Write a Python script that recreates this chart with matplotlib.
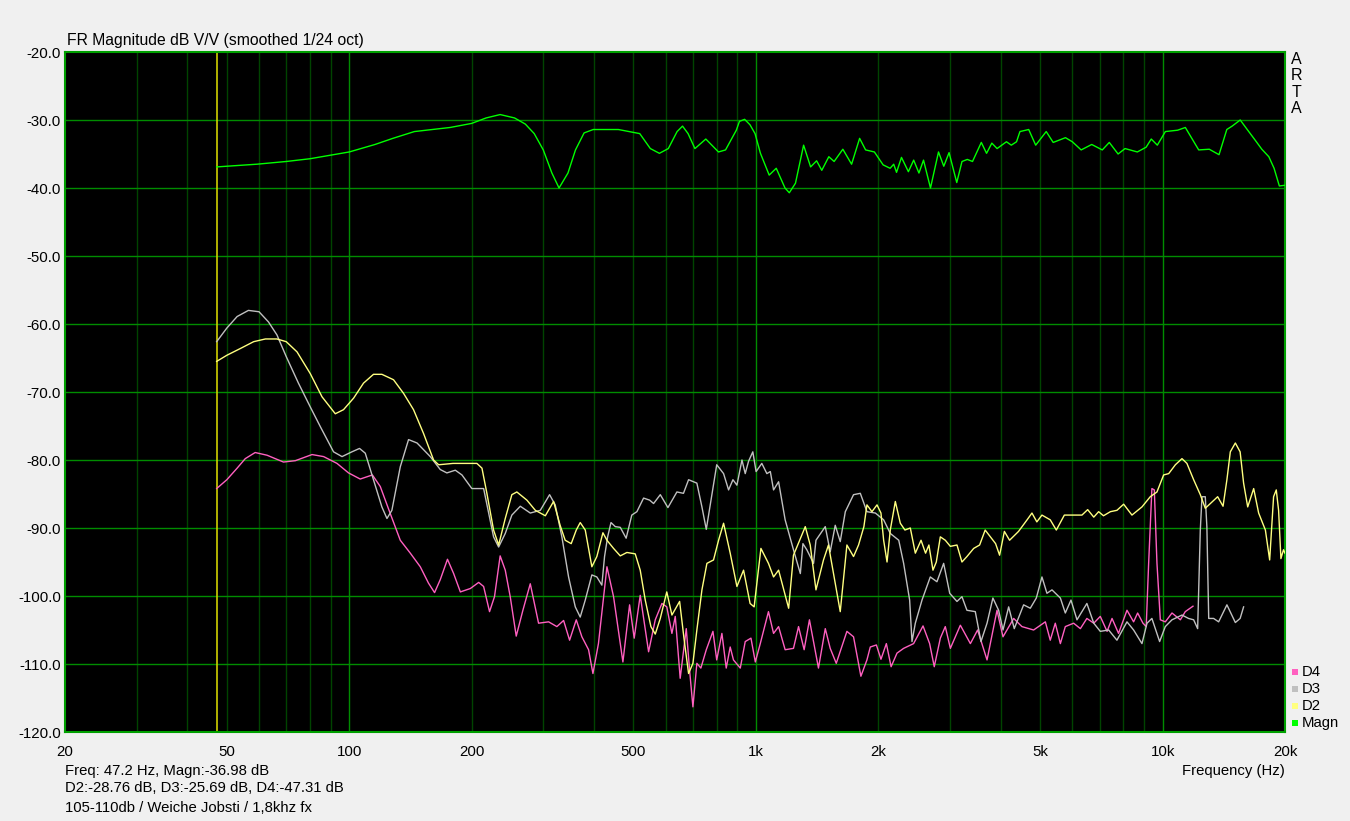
import matplotlib
matplotlib.use("Agg")
import matplotlib.pyplot as plt
from matplotlib.patches import Rectangle

plt.rcParams['font.family'] = ['Liberation Sans', 'DejaVu Sans']

# ---- data ----
magn_f = [47.2, 59.3, 70, 80, 100, 115.7, 128, 144.6, 177, 200, 217, 235, 255, 271, 285,
          300, 315, 328, 345, 360, 378, 398, 459, 518, 550, 579, 609, 640, 660, 681, 708,
          753, 809, 842, 895, 911, 938, 967, 995, 1026, 1078, 1122, 1179, 1208, 1251, 1310,
          1363, 1410, 1452, 1511, 1557, 1636, 1719, 1799, 1861, 1956, 2055, 2138, 2182, 2217,
          2280, 2371, 2443, 2517, 2583, 2687, 2812, 2897, 2985, 3118, 3212, 3310, 3409, 3583,
          3691, 3803, 3918, 4131, 4246, 4374, 4459, 4686, 4875, 5174, 5383, 5770, 5999, 6306,
          6695, 7108, 7395, 7773, 8086, 8668, 9110, 9379, 9706, 10160, 10890, 11375, 12270,
          13025, 13765, 14385, 14825, 15520, 16195, 16860, 17540, 18250, 18800, 19370, 20000]
magn_db = [-36.9, -36.5, -36.1, -35.7, -34.7, -33.6, -32.7, -31.7, -31.1, -30.5, -29.7, -29.2,
           -29.7, -30.6, -32.0, -34.4, -37.8, -40.0, -37.8, -34.4, -31.9, -31.4, -31.4, -32.0,
           -34.2, -34.9, -34.2, -31.7, -30.9, -32.0, -34.2, -32.8, -34.7, -34.4, -31.5, -30.2,
           -29.9, -30.7, -32.0, -34.9, -38.1, -37.1, -40.0, -40.7, -39.3, -33.7, -36.9, -36.0,
           -37.4, -35.4, -36.1, -34.3, -36.5, -32.7, -34.4, -34.7, -36.6, -37.1, -36.5, -37.7,
           -35.5, -37.6, -35.9, -37.8, -35.9, -40.0, -34.7, -36.8, -34.8, -39.2, -36.1, -35.8,
           -36.1, -33.3, -34.9, -33.4, -34.2, -33.2, -33.7, -33.2, -31.7, -31.4, -33.7, -31.7,
           -33.3, -32.6, -33.2, -34.4, -33.6, -34.4, -33.3, -35.0, -34.2, -34.7, -34.0, -32.8,
           -33.7, -31.7, -31.5, -31.1, -34.4, -34.3, -35.1, -31.4, -30.9, -30.0, -31.5, -32.9,
           -34.3, -35.4, -37.1, -39.7, -39.6]

d2_f = [47.2, 50, 54, 58.2, 62.2, 66.4, 70, 74.4, 80.2, 85.7, 92.4, 96.8, 102.5, 108.4, 114.7,
        120.3, 128.5, 136, 143.9, 152.3, 161.2, 165.9, 180, 206, 212, 218, 226.4, 233, 241.9,
        251.1, 258.3, 273.4, 286.8, 303.5, 318, 330, 339.6, 351.4, 361.6, 369.8, 380.5, 395,
        406.3, 420.5, 430.2, 446.6, 463.9, 481.6, 504.9, 519.4, 534.4, 551.8, 565.6, 581.9,
        603.7, 621.5, 649.2, 666.3, 683, 700, 715.8, 736.6, 757.7, 786.6, 809.4, 832.7, 864.5,
        898, 932.4, 967.6, 990, 1028.7, 1073.6, 1105, 1137, 1203.6, 1237, 1322.5, 1360, 1405,
        1466, 1508, 1612, 1674, 1738, 1788, 1843, 1875, 1929, 1985, 2030, 2061, 2101, 2140,
        2202, 2265, 2325, 2397, 2466, 2547, 2613, 2663, 2725, 2777, 2841, 2922, 3007, 3122,
        3211, 3303, 3432, 3549, 3662, 3771, 3885, 3974, 4083, 4205, 4424, 4643, 4773, 4907,
        5051, 5294, 5479, 5734, 6043, 6335, 6543, 6773, 6962, 7157, 7441, 7723, 8022, 8408,
        8898, 9326, 9687, 10059, 10353, 10751, 11161, 11478, 11923, 12381, 12735, 13104,
        13659, 14082, 14394, 14674, 15098, 15513, 15821, 16193, 16750, 17228, 17898, 18337,
        18748, 19035, 19288, 19543, 19830, 20000]
d2_db = [-65.5, -64.6, -63.6, -62.6, -62.2, -62.2, -62.6, -64.1, -67.3, -70.7, -73.2, -72.6,
         -70.9, -68.7, -67.4, -67.4, -68.2, -70.2, -72.6, -76.1, -80.0, -80.7, -80.5, -80.5,
         -81.2, -84.9, -90.3, -92.5, -88.6, -85.1, -84.7, -85.9, -87.4, -88.2, -86.1, -89.6,
         -91.8, -92.3, -90.3, -89.2, -90.3, -95.7, -94.2, -90.7, -91.8, -93.0, -94.1, -93.6,
         -93.8, -96.2, -100.6, -104.5, -105.6, -103.3, -99.4, -102.8, -100.8, -106.5, -111.4,
         -109.9, -105.0, -99.1, -95.2, -94.7, -91.8, -89.3, -93.7, -98.6, -96.2, -101.1,
         -101.6, -93.0, -95.2, -97.2, -96.2, -101.8, -94.0, -89.8, -92.5, -99.1, -94.7, -92.5,
         -102.3, -92.5, -94.2, -92.5, -89.8, -86.6, -87.6, -86.6, -87.8, -91.8, -95.0, -90.3,
         -86.1, -89.3, -90.3, -90.0, -93.7, -91.8, -93.7, -92.5, -96.2, -95.0, -91.3, -91.8,
         -92.7, -92.5, -95.0, -94.2, -93.0, -92.5, -90.3, -91.3, -92.3, -94.0, -90.5, -91.8,
         -90.5, -88.8, -87.8, -89.1, -88.1, -88.8, -90.3, -88.1, -88.1, -88.1, -87.3, -88.4,
         -87.6, -88.2, -87.6, -87.4, -86.5, -88.1, -86.9, -85.4, -84.7, -82.2, -82.0, -80.7,
         -79.8, -80.5, -82.9, -85.1, -87.1, -86.4, -85.4, -86.8, -82.9, -78.8, -77.5, -78.8,
         -83.4, -86.9, -84.2, -87.8, -90.3, -94.7, -85.4, -84.4, -87.4, -94.5, -93.2, -93.7]

d3_f = [47.2, 50, 53, 56.5, 60, 63.3, 66.4, 70, 75, 80.2, 84.9, 91.5, 96, 101.5, 106, 109.5,
        114.7, 120.3, 123.8, 127.3, 133.5, 139.9, 146.8, 158.2, 167.4, 173.8, 182.3, 189.3,
        200.2, 214, 220.2, 226.4, 233, 241.9, 251.1, 263.4, 278.7, 295, 310.9, 321, 333.3,
        346.2, 359.6, 369.8, 380.5, 395, 406.3, 418, 424.4, 431.9, 440.2, 451, 463.9, 479.6,
        495.2, 509.7, 529.4, 547.7, 560.2, 581.9, 607.6, 639.3, 663.5, 683, 715.8, 736.6, 755,
        775.3, 801, 832.7, 856.6, 878, 898, 924, 941.3, 959, 982.6, 1001, 1034, 1064, 1085,
        1105, 1137, 1180, 1237, 1286, 1305, 1334, 1386, 1405, 1481, 1523, 1567, 1612, 1659,
        1738, 1806, 1875, 1967, 2061, 2140, 2245, 2308, 2388, 2420, 2466, 2561, 2684, 2787,
        2895, 2996, 3122, 3211, 3303, 3463, 3576, 3701, 3826, 3952, 4051, 4183, 4318, 4553,
        4728, 4892, 5051, 5196, 5346, 5606, 5765, 5953, 6159, 6514, 6773, 7027, 7369, 7723,
        8174, 8487, 8898, 9156, 9413, 9834, 10155, 10547, 11161, 11582, 11923, 12196, 12381,
        12500, 12735, 12850, 12985, 13350, 13735, 14394, 15098, 15513, 15821]
d3_db = [-62.6, -60.6, -58.9, -58.0, -58.2, -59.7, -61.6, -64.8, -68.7, -72.2, -75.1, -78.8,
         -79.5, -78.8, -78.3, -79.0, -82.9, -86.9, -88.6, -87.4, -81.0, -77.0, -77.5, -79.5,
         -81.4, -81.9, -81.5, -82.2, -84.2, -84.2, -87.8, -91.3, -92.8, -90.8, -88.1, -86.8,
         -87.8, -87.4, -85.1, -86.6, -91.3, -97.2, -101.6, -103.1, -100.6, -96.9, -97.2,
         -98.4, -94.2, -91.3, -89.2, -89.8, -89.9, -91.5, -88.1, -87.6, -85.6, -85.9, -86.4,
         -85.1, -87.0, -84.7, -84.9, -82.9, -83.4, -86.9, -90.2, -85.9, -80.7, -82.0, -84.4,
         -82.9, -83.7, -80.0, -82.0, -80.2, -78.8, -81.7, -80.5, -82.0, -81.7, -84.4, -83.2,
         -88.8, -93.2, -96.7, -92.3, -93.2, -95.2, -91.8, -89.8, -93.5, -89.6, -92.0, -87.6,
         -85.1, -84.9, -87.6, -87.8, -88.8, -90.8, -91.8, -95.2, -100.6, -106.7, -104.0,
         -100.6, -97.2, -97.9, -95.2, -99.6, -100.8, -100.1, -102.1, -102.3, -106.7, -104.0,
         -100.3, -102.1, -105.0, -101.6, -104.8, -101.3, -101.8, -100.3, -97.2, -99.6, -99.1,
         -100.3, -102.5, -100.6, -103.5, -101.1, -104.0, -105.2, -105.0, -106.5, -103.8,
         -105.0, -107.0, -104.0, -103.3, -106.7, -104.5, -103.5, -102.8, -103.3, -103.5,
         -104.8, -90.3, -85.4, -85.4, -89.8, -103.3, -103.3, -103.8, -101.3, -103.9, -103.3,
         -101.6]

d4_f = [47.2, 50, 53, 55.5, 58.7, 62.8, 68.9, 73.7, 81, 86.5, 93.3, 99.6, 106.4, 114, 119.2,
        126, 133.5, 141.3, 149.5, 156.6, 162.1, 167.4, 174.4, 180.6, 187.6, 198.5, 208.1, 214,
        221.3, 227.6, 235, 241.9, 248.8, 257.4, 267.3, 278.7, 292.1, 309.2, 324, 336.6, 348.2,
        361.6, 373.3, 387.7, 397.4, 410, 430.2, 446.6, 470.9, 489.1, 502, 519.4, 544.6, 565.6,
        587.3, 603.7, 621.5, 633.4, 651.3, 674.1, 686.9, 700, 715.8, 732.2, 755, 784, 801,
        824.8, 845.3, 864.5, 880.6, 915.2, 941.3, 972.3, 996.6, 1025, 1073.6, 1105, 1137, 1180,
        1237, 1273, 1314, 1354, 1425, 1481, 1523, 1576, 1674, 1738, 1812, 1875, 1911, 1978,
        2030, 2093, 2150, 2223, 2308, 2442, 2576, 2674, 2745, 2841, 2922, 3007, 3182, 3368,
        3509, 3701, 3916, 4051, 4304, 4510, 4818, 5149, 5294, 5447, 5606, 5765, 6043, 6278,
        6514, 6773, 7027, 7303, 7511, 7793, 8174, 8487, 8683, 8949, 9115, 9241, 9413, 9543,
        9687, 9873, 10155, 10547, 11060, 11371, 11878]
d4_db = [-84.2, -82.9, -81.2, -79.8, -78.9, -79.3, -80.3, -80.1, -79.2, -79.5, -80.5, -81.9,
         -82.8, -82.2, -83.9, -87.8, -91.8, -93.7, -95.7, -98.1, -99.5, -97.6, -94.6, -96.7,
         -99.4, -98.9, -98.0, -98.6, -102.3, -100.1, -94.1, -96.2, -100.1, -105.9, -102.1,
         -98.2, -104.0, -103.8, -104.5, -103.6, -106.5, -103.5, -106.0, -107.9, -111.4,
         -107.0, -95.7, -100.1, -109.7, -101.3, -106.2, -99.9, -108.2, -103.5, -101.1,
         -101.6, -105.5, -103.0, -112.1, -104.8, -110.9, -116.3, -109.9, -110.6, -107.9,
         -105.2, -109.4, -105.5, -110.6, -107.5, -109.4, -110.6, -106.7, -106.2, -109.7,
         -107.0, -102.3, -105.5, -104.5, -107.9, -107.7, -104.5, -107.9, -103.5, -110.6,
         -104.8, -107.7, -109.9, -105.2, -106.0, -111.8, -109.4, -107.5, -107.2, -109.3,
         -107.0, -110.4, -108.4, -107.7, -107.0, -104.4, -107.0, -110.4, -106.2, -104.5,
         -107.7, -104.3, -107.0, -105.0, -109.4, -102.1, -106.0, -103.3, -104.5, -105.0,
         -103.8, -106.5, -104.0, -107.0, -104.5, -104.0, -104.8, -103.3, -104.0, -103.0,
         -105.2, -103.3, -105.5, -102.1, -103.8, -102.5, -104.0, -104.5, -95.2, -84.2, -84.4,
         -95.2, -103.5, -103.8, -102.5, -103.5, -102.3, -101.5]

cursor_f = 47.2
xtick_vals = [20, 50, 100, 200, 500, 1000, 2000, 5000, 10000, 20000]
xtick_labels = ['20', '50', '100', '200', '500', '1k', '2k', '5k', '10k', '20k']
ytick_vals = [-20, -30, -40, -50, -60, -70, -80, -90, -100, -110, -120]
legend_names = ['D4', 'D3', 'D2', 'Magn']

C_MAGN = '#00ff00'
C_D2 = '#ffff80'
C_D3 = '#c0c0c0'
C_D4 = '#ff60c0'
GRID_HI = '#008c00'
GRID_LO = '#004400'

W, H = 1350, 821
fig = plt.figure(figsize=(W / 100, H / 100), dpi=100, facecolor='#f0f0f0')
ax = fig.add_axes([65 / W, 1 - 732 / H, 1220 / W, 680 / H])
ax.set_facecolor('black')
ax.set_xscale('log')
ax.set_xlim(20, 20000)
ax.set_ylim(-120, -20)

# grid
for dec in (10, 100, 1000, 10000):
    for k in range(1, 10):
        f = dec * k
        if f <= 20 or f >= 20000:
            continue
        col = GRID_HI if k == 1 else GRID_LO
        ax.axvline(f, color=col, lw=1.0, zorder=1)
for v in ytick_vals[1:-1]:
    ax.axhline(v, color=GRID_HI, lw=1.0, zorder=1)

ax.axvline(cursor_f, color='#d0d000', lw=1.2, zorder=2)

ax.plot(d4_f, d4_db, color=C_D4, lw=1.0, zorder=3)
ax.plot(d3_f, d3_db, color=C_D3, lw=1.0, zorder=4)
ax.plot(d2_f, d2_db, color=C_D2, lw=1.0, zorder=5)
ax.plot(magn_f, magn_db, color=C_MAGN, lw=1.0, zorder=6)

ax.set_xticks(xtick_vals)
ax.set_xticklabels(xtick_labels)
ax.set_xticks([], minor=True)
ax.set_yticks(ytick_vals)
ax.set_yticklabels([f'{v:.1f}' for v in ytick_vals])
ax.tick_params(axis='both', length=0, labelsize=10.8, colors='black')
ax.tick_params(axis='x', pad=9)
ax.tick_params(axis='y', pad=3)
for s in ax.spines.values():
    s.set_color('#00a000')
    s.set_linewidth(1.5)

# texts
fig.text(67 / W, 1 - 40 / H, 'FR Magnitude dB V/V (smoothed 1/24 oct)', fontsize=11.3,
         ha='left', va='center')
fig.text(1296 / W, 1 - 52 / H, 'A\nR\nT\nA', fontsize=11.5, ha='center', va='top',
         linespacing=1.12)
fig.text(65 / W, 1 - 771 / H, 'Freq: 47.2 Hz, Magn:-36.98 dB', fontsize=10.7,
         ha='left', va='center')
fig.text(65 / W, 1 - 788 / H, 'D2:-28.76 dB, D3:-25.69 dB, D4:-47.31 dB', fontsize=10.7,
         ha='left', va='center')
fig.text(65 / W, 1 - 808 / H, '105-110db / Weiche Jobsti / 1,8khz fx', fontsize=10.7,
         ha='left', va='center')
fig.text(1285 / W, 1 - 771 / H, 'Frequency (Hz)', fontsize=10.7, ha='right', va='center')

# legend
for i, (name, col) in enumerate(zip(legend_names, [C_D4, C_D3, C_D2, C_MAGN])):
    yc = 672 + i * 17
    fig.add_artist(Rectangle((1292 / W, 1 - (yc + 3) / H), 6 / W, 6 / H,
                             transform=fig.transFigure, facecolor=col, edgecolor='none'))
    fig.text(1302 / W, 1 - yc / H, name, fontsize=10.7, ha='left', va='center')

fig.savefig('out.png', dpi=100, facecolor=fig.get_facecolor())
